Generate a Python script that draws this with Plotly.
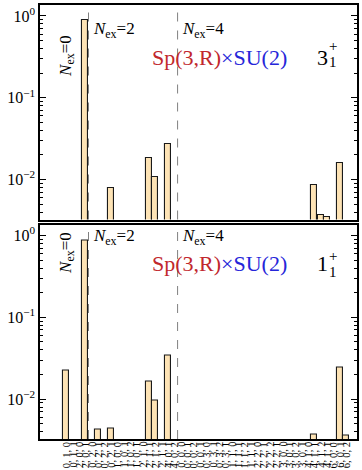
import plotly.graph_objects as go
from plotly.subplots import make_subplots

# Sp(3,R) x SU(2) basis labels (lambda, mu, S), grouped by N_ex block
labels_n0 = ["0,1,0", "0,1,1", "2,0,0", "2,0,1"]
labels_n2 = ["0,2,0", "0,2,1", "0,2,2", "0,2,1",
             "1,0,0", "1,0,1", "1,0,2", "1,0,1",
             "2,1,0", "2,1,1", "2,1,2", "2,1,1",
             "4,0,1", "4,0,2"]
labels_n4 = ["0,0,0", "0,0,1", "0,0,2", "0,0,1",
             "0,3,0", "0,3,1", "0,3,2", "0,3,1",
             "1,1,0", "1,1,1", "1,1,2", "1,1,1",
             "2,2,0", "2,2,1", "2,2,2", "2,2,1",
             "3,0,0", "3,0,1", "3,0,2", "3,0,1",
             "4,1,0", "4,1,1", "4,1,2", "4,1,1",
             "6,0,0", "6,0,1", "6,0,2"]

# probabilities of the 3_1^+ state (None = below the plotted range)
prob_3_n0 = [None, None, None, 0.89]
prob_3_n2 = [None, None, None, 0.0079, None, None, None, None,
             None, 0.0184, 0.0107, None, 0.0269, None]
prob_3_n4 = [None, None, None, None, None, None, None, None, None,
             None, None, None, None, None, None, None, None, None,
             None, None, None, 0.0085, 0.0037, 0.00345, None, 0.0158, None]

# probabilities of the 1_1^+ state
prob_1_n0 = [0.0226, None, None, 0.87]
prob_1_n2 = [None, 0.0043, None, 0.0044, None, None, None, None,
             None, 0.0166, 0.0097, None, 0.0344, None]
prob_1_n4 = [None, None, None, None, None, None, None, None, None,
             None, None, None, None, None, None, None, None, None,
             None, None, None, 0.0037, None, None, None, 0.0245, 0.0036]

labels = labels_n0 + labels_n2 + labels_n4
xpos = list(range(len(labels)))
tick_text = [s.replace(",", ", ") for s in labels]
# block boundaries between N_ex = 0 | 2 | 4
bound_2 = len(labels_n0) - 0.5
bound_4 = len(labels_n0) + len(labels_n2) - 0.5

W, H = 362, 470
ML, MR, MT, MB = 40, 3, 5, 31
SERIF = "Liberation Serif"
RED = "#c1272d"
BLUE = "#2626d9"
FILL = "#fde3b5"


def px(x):
    return (x - ML) / (W - ML - MR)


def py(y):
    return (H - MB - y) / (H - MT - MB)


fig = make_subplots(rows=2, cols=1, shared_xaxes=True,
                    vertical_spacing=5 / (H - MT - MB))

panels = [
    (prob_3_n0 + prob_3_n2 + prob_3_n4, "3"),
    (prob_1_n0 + prob_1_n2 + prob_1_n4, "1"),
]

for row, (vals, jlab) in enumerate(panels, start=1):
    fig.add_trace(go.Bar(
        x=xpos, y=vals, width=0.94,
        marker=dict(color=FILL, line=dict(color="#1a1a1a", width=1.1)),
        showlegend=False,
    ), row=row, col=1)
    yref = "y domain" if row == 1 else "y2 domain"
    xref = "x" if row == 1 else "x2"
    for xb in (bound_2, bound_4):
        fig.add_shape(type="line", xref=xref, yref=yref,
                      x0=xb, x1=xb, y0=0, y1=1,
                      line=dict(color="#808080", width=1, dash="dash"))

    off = 0 if row == 1 else 220
    nex = "<i>N</i><sub>ex</sub>="
    fig.add_annotation(text=nex + "0", xref="paper", yref="paper",
                       x=px(54), y=py(33 + off), textangle=-90,
                       showarrow=False, font=dict(family=SERIF, size=17, color="black"))
    fig.add_annotation(text=nex + "2", xref="paper", yref="paper",
                       x=px(91), y=py(17 + off), xanchor="left",
                       showarrow=False, font=dict(family=SERIF, size=17, color="black"))
    fig.add_annotation(text=nex + "4", xref="paper", yref="paper",
                       x=px(181), y=py(17 + off), xanchor="left",
                       showarrow=False, font=dict(family=SERIF, size=17, color="black"))
    fig.add_annotation(
        text=f'<span style="color:{RED}">Sp(3,R)</span>'
             f'<span style="color:{BLUE}">×SU(2)</span>',
        xref="paper", yref="paper", x=px(151), y=py(43 + off), xanchor="left",
        showarrow=False, font=dict(family=SERIF, size=22))
    fig.add_annotation(text=jlab, xref="paper", yref="paper",
                       x=px(317), y=py(43 + off), xanchor="left",
                       showarrow=False, font=dict(family=SERIF, size=22, color="black"))
    fig.add_annotation(text="+", xref="paper", yref="paper",
                       x=px(329), y=py(36 + off), xanchor="left",
                       showarrow=False, font=dict(family=SERIF, size=15, color="black"))
    fig.add_annotation(text="1", xref="paper", yref="paper",
                       x=px(329), y=py(52 + off), xanchor="left",
                       showarrow=False, font=dict(family=SERIF, size=15, color="black"))

# category labels under the lower panel, written vertically
for xv, txt in zip(xpos, tick_text):
    fig.add_annotation(text=txt, xref="x2", yref="paper",
                       x=xv, y=py(441), xanchor="center", yanchor="top",
                       textangle=-90, showarrow=False,
                       borderpad=0,
                       font=dict(family=SERIF, size=10.5, color="black"))

minor_vals = [m * 10.0 ** e for e in (-3, -2, -1) for m in range(2, 10)]
yaxis_style = dict(
    type="log", range=[-2.488, 0.134],
    tickmode="array", tickvals=[1, 0.1, 0.01],
    ticktext=["10<sup>0</sup>", "10<sup>−1</sup>", "10<sup>−2</sup>"],
    ticks="inside", ticklen=6, tickwidth=1, tickcolor="black",
    minor=dict(tickmode="array", tickvals=minor_vals, ticks="inside",
               ticklen=3, tickwidth=1, tickcolor="black"),
    showline=True, mirror="ticks", linecolor="black", linewidth=1.5,
    showgrid=False, zeroline=False,
    tickfont=dict(family=SERIF, size=16, color="black"),
)
xaxis_style = dict(
    range=[-4.125, 45.7],
    tickmode="array", tickvals=xpos,
    ticks="", showticklabels=False,
    showline=True, mirror=True, linecolor="black", linewidth=1.5,
    showgrid=False, zeroline=False,
)

fig.update_yaxes(**yaxis_style)
fig.update_xaxes(**xaxis_style)

fig.update_layout(
    width=W, height=H,
    margin=dict(l=ML, r=MR, t=MT, b=MB),
    paper_bgcolor="white", plot_bgcolor="white",
    bargap=0, showlegend=False,
    font=dict(family=SERIF, color="black"),
)

fig.write_html("out.html")
